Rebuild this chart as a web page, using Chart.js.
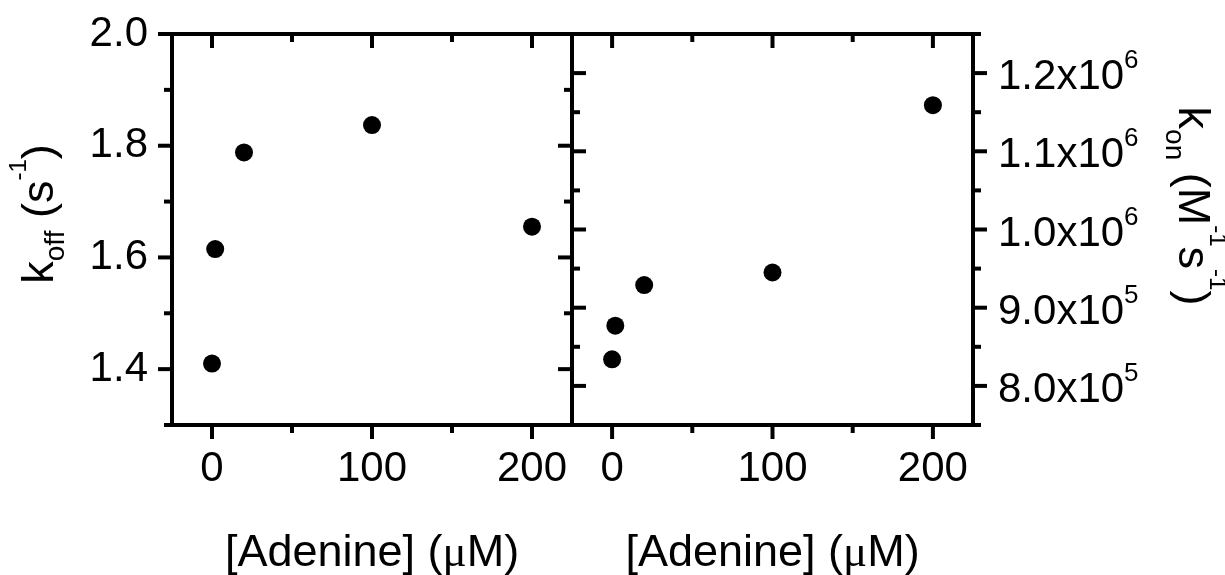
<!DOCTYPE html>
<html>
<head>
<meta charset="utf-8">
<script src="https://cdn.jsdelivr.net/npm/chart.js@4.4.1/dist/chart.umd.min.js"></script>
<style>
  html, body { margin: 0; padding: 0; background: #fff; }
  #wrap { position: relative; width: 1225px; height: 575px; overflow: hidden; }
  canvas { position: absolute; top: 0; }
  #koffChart { left: 0; }
  #konChart { left: 560px; }
</style>
</head>
<body>
<div id="wrap">
  <canvas id="koffChart" width="600" height="575"></canvas>
  <canvas id="konChart" width="665" height="575"></canvas>
</div>
<script>
// du lieu doc tu hinh
const adenine = [0, 2, 20, 100, 200];
const koff = [1.41, 1.615, 1.788, 1.837, 1.655];
const kon = [834000, 877000, 929000, 945000, 1159000];

// vach chia
const xMajor = [0, 100, 200];
const xMinor = [50, 150];
const koffMajor = [1.4, 1.6, 1.8, 2.0];
const koffMinor = [1.3, 1.5, 1.7, 1.9];
const konMajor = [800000, 900000, 1000000, 1100000, 1200000];
const konMinor = [750000, 850000, 950000, 1050000, 1150000, 1250000];

const SANS = '"Liberation Sans", Arial, sans-serif';
const SERIF = '"Liberation Serif", "Times New Roman", serif';
const LW = 4, MAJOR = 14, MINOR = 8;

Chart.defaults.font.family = SANS;
Chart.defaults.color = '#000';

// ve chu co chi so tren / duoi
function drawRuns(ctx, runs, x, y, angle, align) {
  ctx.save();
  ctx.translate(x, y);
  ctx.rotate(angle);
  ctx.fillStyle = '#000';
  ctx.textBaseline = 'alphabetic';
  ctx.textAlign = 'left';
  let total = 0;
  runs.forEach(r => {
    ctx.font = r.size + 'px ' + (r.family || SANS);
    total += ctx.measureText(r.text).width;
  });
  let cx = align === 'center' ? -total / 2 : 0;
  runs.forEach(r => {
    ctx.font = r.size + 'px ' + (r.family || SANS);
    ctx.fillText(r.text, cx, r.dy || 0);
    cx += ctx.measureText(r.text).width;
  });
  ctx.restore();
}

const xTitle = [
  { text: '[Adenine] (', size: 45 },
  { text: '\u03bc', size: 45, family: SERIF },
  { text: 'M)', size: 45 }
];

const framePlugin = {
  id: 'frameTicks',
  afterDraw(chart, args, opts) {
    const { ctx, chartArea: a } = chart;
    const xs = chart.scales.x, ys = chart.scales.y;
    ctx.save();
    ctx.strokeStyle = '#000';
    ctx.lineWidth = LW;
    ctx.strokeRect(a.left, a.top, a.right - a.left, a.bottom - a.top);
    const seg = (x1, y1, x2, y2) => {
      ctx.beginPath(); ctx.moveTo(x1, y1); ctx.lineTo(x2, y2); ctx.stroke();
    };
    xMajor.map(v => [v, MAJOR]).concat(xMinor.map(v => [v, MINOR])).forEach(([v, len]) => {
      const px = xs.getPixelForValue(v);
      seg(px, a.bottom, px, a.bottom + len);
      seg(px, a.top, px, a.top + len);
    });
    opts.major.map(v => [v, MAJOR]).concat(opts.minor.map(v => [v, MINOR])).forEach(([v, len]) => {
      const py = ys.getPixelForValue(v);
      if (opts.side === 'left') {
        seg(a.left, py, a.left - len, py);
        seg(a.right, py, a.right - len, py);
      } else {
        seg(a.right, py, a.right + len, py);
        seg(a.left, py, a.left + len, py);
      }
    });
    ctx.restore();

    // nhan truc phai dang a x 10^n
    if (opts.side === 'right') {
      ys.ticks.forEach(t => {
        const exp = Math.floor(Math.log10(t.value));
        const man = (t.value / Math.pow(10, exp)).toFixed(1);
        drawRuns(ctx, [
          { text: man + 'x10', size: 42 },
          { text: String(exp), size: 26, dy: -21 }
        ], a.right + 25, ys.getPixelForValue(t.value) + 16, 0, 'left');
      });
    }

    drawRuns(ctx, xTitle, (a.left + a.right) / 2, 566, 0, 'center');
    drawRuns(ctx, opts.yTitle, opts.yTitleX, opts.yTitleY, opts.side === 'left' ? -Math.PI / 2 : Math.PI / 2, 'center');
  }
};

function xScale() {
  return {
    type: 'linear',
    min: -25,
    max: 225,
    afterBuildTicks: s => { s.ticks = xMajor.map(v => ({ value: v })); },
    afterFit: s => { s.height = 150; s.paddingLeft = 0; s.paddingRight = 0; },
    grid: { display: false, drawTicks: false },
    border: { display: false },
    ticks: { font: { size: 42 }, color: '#000', padding: 19, maxRotation: 0, autoSkip: false }
  };
}

function points(ys) {
  return [{
    type: 'scatter',
    data: adenine.map((x, i) => ({ x: x, y: ys[i] })),
    pointRadius: 9,
    pointHoverRadius: 9,
    pointBackgroundColor: '#000',
    pointBorderWidth: 0
  }];
}

new Chart(document.getElementById('koffChart').getContext('2d'), {
  type: 'scatter',
  data: { datasets: points(koff) },
  options: {
    responsive: false,
    animation: false,
    events: [],
    layout: { padding: { top: 34, right: 28, left: 0, bottom: 0 } },
    scales: {
      x: xScale(),
      y: {
        type: 'linear',
        min: 1.3,
        max: 2.0,
        afterBuildTicks: s => { s.ticks = koffMajor.map(v => ({ value: v })); },
        afterFit: s => { s.width = 172; s.paddingTop = 0; s.paddingBottom = 0; },
        grid: { display: false, drawTicks: false },
        border: { display: false },
        ticks: { font: { size: 42 }, color: '#000', padding: 24, callback: v => v.toFixed(1) }
      }
    },
    plugins: {
      legend: { display: false },
      tooltip: { enabled: false },
      frameTicks: {
        side: 'left', major: koffMajor, minor: koffMinor,
        yTitleX: 53, yTitleY: 214,
        yTitle: [
          { text: 'k', size: 45 },
          { text: 'off', size: 28, dy: 11 },
          { text: ' (s', size: 45 },
          { text: '-1', size: 24, dy: -27 },
          { text: ')', size: 45 }
        ]
      }
    }
  },
  plugins: [framePlugin]
});

new Chart(document.getElementById('konChart').getContext('2d'), {
  type: 'scatter',
  data: { datasets: points(kon) },
  options: {
    responsive: false,
    animation: false,
    events: [],
    layout: { padding: { top: 34, right: 0, left: 12, bottom: 0 } },
    scales: {
      x: xScale(),
      y: {
        type: 'linear',
        position: 'right',
        min: 750000,
        max: 1250000,
        afterBuildTicks: s => { s.ticks = konMajor.map(v => ({ value: v })); },
        afterFit: s => { s.width = 252; s.paddingTop = 0; s.paddingBottom = 0; },
        grid: { display: false, drawTicks: false },
        border: { display: false },
        ticks: { display: false }
      }
    },
    plugins: {
      legend: { display: false },
      tooltip: { enabled: false },
      frameTicks: {
        side: 'right', major: konMajor, minor: konMinor,
        yTitleX: 619, yTitleY: 206,
        yTitle: [
          { text: 'k', size: 45 },
          { text: 'on', size: 28, dy: 13 },
          { text: ' (M', size: 45 },
          { text: '-1', size: 24, dy: -31 },
          { text: 's', size: 45 },
          { text: '-1', size: 24, dy: -31 },
          { text: ')', size: 45 }
        ]
      }
    }
  },
  plugins: [framePlugin]
});
</script>
</body>
</html>
